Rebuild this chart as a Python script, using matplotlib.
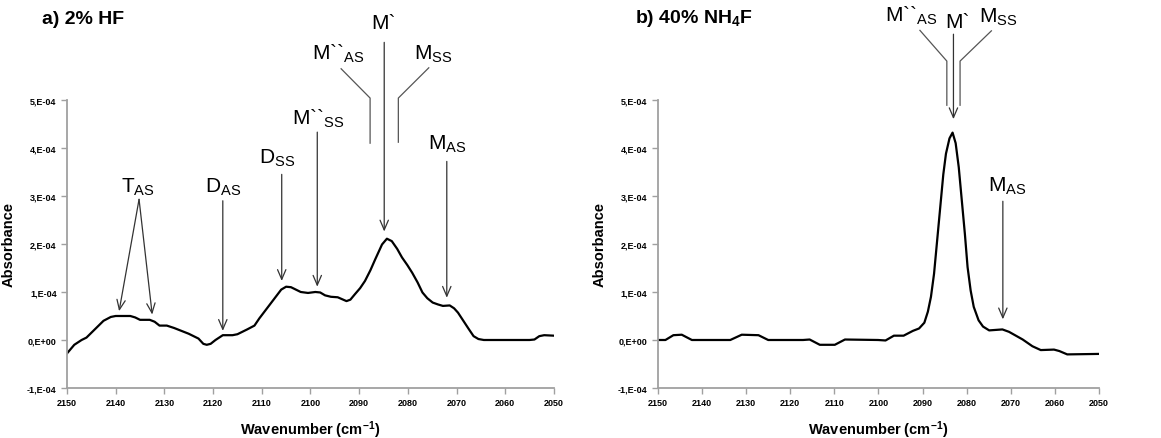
import matplotlib
matplotlib.use("Agg")
import matplotlib.pyplot as plt
from matplotlib.ticker import FuncFormatter, MultipleLocator

plt.rcParams['font.family'] = ['Liberation Sans', 'DejaVu Sans']
plt.rcParams['mathtext.fontset'] = 'custom'
plt.rcParams['mathtext.rm'] = 'Liberation Sans'
plt.rcParams['mathtext.it'] = 'Liberation Sans:italic'
plt.rcParams['mathtext.bf'] = 'Liberation Sans:bold'

# a) 2% HF spectrum (wavenumber, absorbance in 1e-4 units)
wn_hf = [2150, 2148.5, 2147, 2146, 2144, 2142.5, 2141, 2140, 2137, 2136, 2135, 2134,
         2133, 2132, 2131, 2129.5, 2128, 2125, 2123, 2122, 2121.3, 2120.5, 2119.5, 2118,
         2116, 2115, 2113, 2111.5, 2110.5, 2109, 2107.5, 2106, 2105, 2104, 2103, 2102,
         2100.5, 2099, 2098, 2097, 2095.8, 2094.4, 2093.5, 2092.6, 2091.8, 2090.9, 2089.8,
         2088.8, 2087.7, 2086.7, 2085.3, 2084.3, 2083.3, 2082.2, 2081.2, 2080.1, 2079.1,
         2078, 2077, 2076, 2074.9, 2073.8, 2072.8, 2071.4, 2070.5, 2069.7, 2068.6, 2067.5,
         2066.5, 2065.5, 2064.4, 2055, 2054, 2053, 2052, 2050]
abs_hf = [-0.28, -0.1, 0.0, 0.05, 0.25, 0.4, 0.48, 0.5, 0.5, 0.47, 0.42, 0.42,
          0.42, 0.38, 0.3, 0.3, 0.25, 0.13, 0.03, -0.08, -0.1, -0.08, 0.0, 0.1,
          0.1, 0.12, 0.22, 0.3, 0.45, 0.65, 0.85, 1.05, 1.11, 1.1, 1.05, 1.0,
          0.98, 1.0, 0.99, 0.93, 0.9, 0.89, 0.85, 0.81, 0.84, 0.95, 1.08,
          1.23, 1.45, 1.68, 1.99, 2.11, 2.06, 1.9, 1.72, 1.56, 1.4,
          1.2, 0.99, 0.87, 0.78, 0.74, 0.71, 0.72, 0.66, 0.57, 0.4, 0.23,
          0.08, 0.02, 0.0, 0.0, 0.01, 0.08, 0.1, 0.09]

# b) 40% NH4F spectrum
wn_nh4f = [2150, 2148.3, 2146.5, 2144.6, 2142.3, 2133.6, 2131, 2127.2, 2125, 2117.1,
           2115.6, 2113.3, 2109.9, 2107.6, 2100.1, 2098.4, 2096.5, 2094.3, 2092.2,
           2090.8, 2089.6, 2088.8, 2088.1, 2087.4, 2086.7, 2086.0, 2085.3, 2084.7,
           2083.9, 2083.2, 2082.5, 2081.8, 2081.1, 2080.4, 2079.8, 2079.1, 2078.4,
           2077.3, 2076.3, 2074.9, 2071.9, 2070.4, 2067.3, 2065.1, 2063.2, 2060.2,
           2059, 2057.2, 2050]
abs_nh4f = [0.0, 0.0, 0.1, 0.11, 0.0, 0.0, 0.11, 0.1, 0.0, 0.0,
            0.01, -0.1, -0.1, 0.01, 0.0, -0.01, 0.09, 0.09, 0.19,
            0.24, 0.36, 0.59, 0.9, 1.38, 2.07, 2.76, 3.45, 3.88,
            4.2, 4.32, 4.1, 3.6, 2.9, 2.2, 1.52, 1.03, 0.69,
            0.41, 0.28, 0.2, 0.22, 0.17, 0.01, -0.13, -0.21, -0.2,
            -0.23, -0.3, -0.29]

# peak labels: (text, x, bottom of text)
labels_hf = [
    ('T$_{\\mathrm{AS}}$', 2135.4, 2.97),
    ('D$_{\\mathrm{AS}}$', 2118.0, 2.97),
    ('D$_{\\mathrm{SS}}$', 2106.9, 3.59),
    ('M``$_{\\mathrm{SS}}$', 2098.5, 4.39),
    ('M`', 2084.9, 6.42),
    ('M``$_{\\mathrm{AS}}$', 2094.4, 5.74),
    ('M$_{\\mathrm{SS}}$', 2074.8, 5.74),
    ('M$_{\\mathrm{AS}}$', 2072.0, 3.87),
]
arrows_hf = [
    ((2135.2, 2.93), (2139.3, 0.6)),
    ((2135.2, 2.93), (2132.5, 0.53)),
    ((2118.0, 2.90), (2118.0, 0.19)),
    ((2105.9, 3.45), (2105.9, 1.23)),
    ((2098.6, 4.33), (2098.6, 1.11)),
    ((2084.85, 6.2), (2084.85, 2.26)),
    ((2072.0, 3.72), (2072.0, 0.88)),
]
brackets_hf = [
    ([2093.7, 2087.75, 2087.75], [5.65, 5.04, 4.1]),
    ([2075.7, 2081.95, 2081.95], [5.67, 5.04, 4.12]),
]

labels_nh4f = [
    ('M``$_{\\mathrm{AS}}$', 2092.5, 6.54),
    ('M`', 2082.0, 6.44),
    ('M$_{\\mathrm{SS}}$', 2072.9, 6.51),
    ('M$_{\\mathrm{AS}}$', 2070.9, 3.0),
]
arrows_nh4f = [
    ((2083.0, 6.37), (2083.0, 4.6)),
    ((2071.8, 2.89), (2071.8, 0.43)),
]
brackets_nh4f = [
    ([2090.6, 2084.5, 2084.5], [6.45, 5.81, 4.89]),
    ([2074.4, 2081.5, 2081.5], [6.44, 5.81, 4.89]),
]


def fmt_y(v, pos):
    if abs(v) < 1e-12:
        return '0,E+00'
    return '%d,E-04' % round(v)


def style_axis(ax):
    ax.set_xlim(2150, 2050)
    ax.set_ylim(-1, 5)
    ax.xaxis.set_major_locator(MultipleLocator(10))
    ax.yaxis.set_major_locator(MultipleLocator(1))
    ax.yaxis.set_major_formatter(FuncFormatter(fmt_y))
    for s in ['top', 'right']:
        ax.spines[s].set_visible(False)
    for s in ['left', 'bottom']:
        ax.spines[s].set_color('#a0a0a0')
        ax.spines[s].set_linewidth(1.3)
    ax.tick_params(axis='both', colors='#a0a0a0', length=4, width=1,
                   labelcolor='black', labelsize=6.5)
    for lab in ax.get_xticklabels() + ax.get_yticklabels():
        lab.set_fontweight('bold')
    ax.set_ylabel('Absorbance', fontsize=10.5, fontweight='bold', labelpad=8)
    ax.set_xlabel('Wavenumber (cm$^{\\mathbf{-1}}$)', fontsize=10.5,
                  fontweight='bold', labelpad=8)
    ax.patch.set_alpha(0)


def annotate(ax, labels, arrows, brackets):
    for txt, x, y in labels:
        ax.text(x, y, txt, fontsize=15, ha='center', va='bottom', clip_on=False)
    for (x0, y0), (x1, y1) in arrows:
        ax.annotate('', xy=(x1, y1), xytext=(x0, y0), annotation_clip=False,
                    arrowprops=dict(arrowstyle='->,head_length=0.7,head_width=0.3',
                                    color='#333333', lw=0.9, shrinkA=0, shrinkB=0))
    for xs, ys in brackets:
        ax.plot(xs, ys, color='#555555', lw=0.9, clip_on=False)


fig = plt.figure(figsize=(11.61, 4.39), dpi=100)
ax1 = fig.add_axes([0.0577, 0.1139, 0.4194, 0.6561])
ax2 = fig.add_axes([0.5667, 0.1139, 0.3799, 0.6561])

ax1.plot(wn_hf, abs_hf, color='black', lw=1.6)
ax2.plot(wn_nh4f, abs_nh4f, color='black', lw=1.6)
style_axis(ax1)
style_axis(ax2)
annotate(ax1, labels_hf, arrows_hf, brackets_hf)
annotate(ax2, labels_nh4f, arrows_nh4f, brackets_nh4f)

fig.text(0.036, 0.955, 'a) 2% HF', fontsize=14, fontweight='bold', va='center')
fig.text(0.547, 0.958, 'b) 40% NH$_{\\mathbf{4}}$F', fontsize=14, fontweight='bold',
         va='center')

fig.savefig('out.png', dpi=100)
